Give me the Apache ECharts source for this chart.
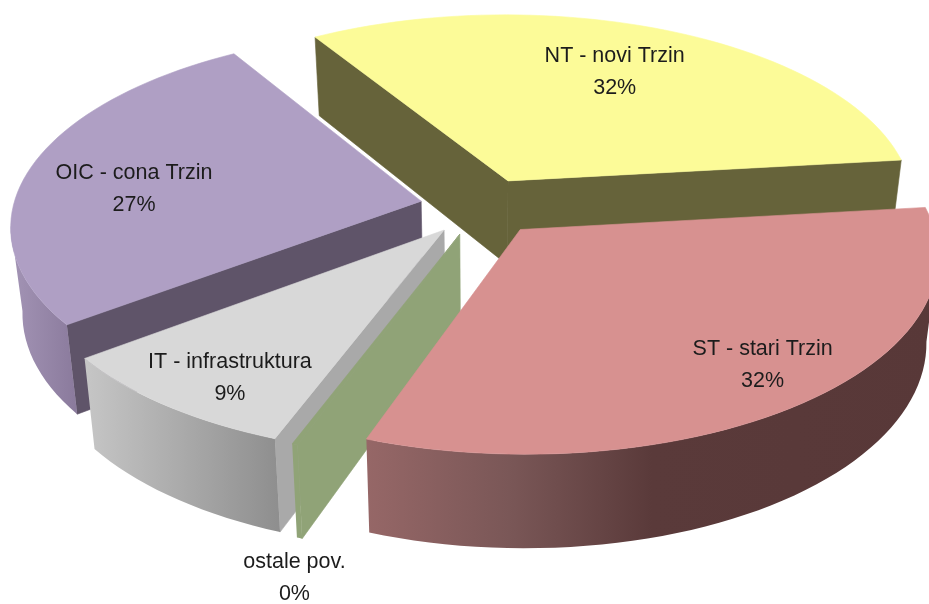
<!DOCTYPE html>
<html><head><meta charset="utf-8">
<script src="https://cdn.jsdelivr.net/npm/echarts@6/dist/echarts.min.js"></script>
<style>html,body{margin:0;padding:0;background:#fff;overflow:hidden}#c{width:929px;height:604px;filter:blur(0.45px)}</style>
</head><body><div id="c"></div>
<script>
const categories = ['NT - novi Trzin','ST - stari Trzin','ostale pov.','IT - infrastruktura','OIC - cona Trzin'];
const shares = [32.0, 32.4, 0.2, 9.0, 26.6];

// styles and layout (separate from the data)
const topColors  = ['#FCFB98','#D79190','#90A377','#D8D8D8','#AF9FC4'];
const cutColors  = ['#66633A','#5A3A3A','#90A377','#A9A9A9','#5F5469'];
const rimColors  = [['#66633A','#66633A'],['#966767','#7A5757','#5A3A3A','#593939','#583838'],['#90A377','#90A377'],['#C6C6C6','#8E8E8E'],['#A394B5','#8A7A9C']];
const drawOrder  = [0,4,3,2,1];
const labelReach = [0.60,0.90,1.38,0.92,0.72];
const labelNudge = [[9,-15],[-14,-17],[74,39],[40,-12],[-5,13]];
const START = -31.5, CX = 481.5, CY = 206.5, R = 408, K = 0.47, P = 0.12, H = 85, CONV = 0.975, EXPLODE = 0.151;

const total = shares.reduce((a,b)=>a+b,0);
const rad = d => d*Math.PI/180;
const sweeps = shares.map(v=>v/total*360);
const starts = sweeps.map((_,i)=>START+sweeps.slice(0,i).reduce((a,b)=>a+b,0));
function proj(U,V,bottom){
  const s = 1/(1-P*V);
  let x = R*U*s, y = CY+R*K*V*s;
  if(bottom){ x*=CONV; y+=H*Math.pow(s,0.7); }
  return [CX+x,y];
}
function slice(i){
  const a0=starts[i], a1=a0+sweeps[i], mid=a0+sweeps[i]/2;
  const ox=EXPLODE*Math.sin(rad(mid)), oy=-EXPLODE*Math.cos(rad(mid));
  const pt=(a,r)=>[ox+r*Math.sin(rad(a)), oy-r*Math.cos(rad(a))];
  const n=Math.max(2,Math.ceil(sweeps[i]/2));
  const arc=[];for(let k=0;k<=n;k++)arc.push(pt(a0+(a1-a0)*k/n,1));
  const apex=[ox,oy];
  const up=p=>proj(p[0],p[1],false), dn=p=>proj(p[0],p[1],true);
  const kids=[];
  const poly=(points,fill)=>kids.push({type:'polygon',shape:{points},style:{fill,stroke:typeof fill==='string'?fill:null,lineWidth:typeof fill==='string'?0.6:0}});
  const A=up(apex), M=up(pt(mid,1));
  [arc[0],arc[n]].forEach(e=>{
    const P0=up(e), ex=P0[0]-A[0], ey=P0[1]-A[1];
    const side=ex*(M[1]-A[1])-ey*(M[0]-A[0]);
    if(side*ex<0) poly([A,P0,dn(e),dn(apex)],cutColors[i]);
  });
  const vis=[];
  for(let k=0;k<n;k++){
    if(up(arc[k+1])[0]<up(arc[k])[0]){ if(!vis.length)vis.push(arc[k]); vis.push(arc[k+1]); }
  }
  if(vis.length>1){
    const st=rimColors[i];
    const g=new echarts.graphic.LinearGradient(0,0,1,0,st.map((color,j)=>({offset:j/(st.length-1),color})));
    poly(vis.map(up).concat(vis.slice().reverse().map(dn)),g);
  }
  poly([A].concat(arc.map(up)),topColors[i]);
  const L=up(pt(mid,labelReach[i]));
  kids.push({type:'text',x:L[0]+labelNudge[i][0],y:L[1]+labelNudge[i][1],style:{
    text:categories[i]+'\n'+Math.round(shares[i]/total*100)+'%',
    fill:'#1c1c1c',font:'21.5px "Liberation Sans"',lineHeight:32,align:'center',verticalAlign:'middle'}});
  return {type:'group',children:kids};
}
const chart=echarts.init(document.getElementById('c'),null,{renderer:'canvas'});
chart.setOption({animation:false,backgroundColor:'#fff',
  series:[{type:'custom',coordinateSystem:'none',silent:true,
    data:drawOrder.map(i=>[i]),
    renderItem:(p,api)=>slice(api.value(0))}]});
</script></body></html>
